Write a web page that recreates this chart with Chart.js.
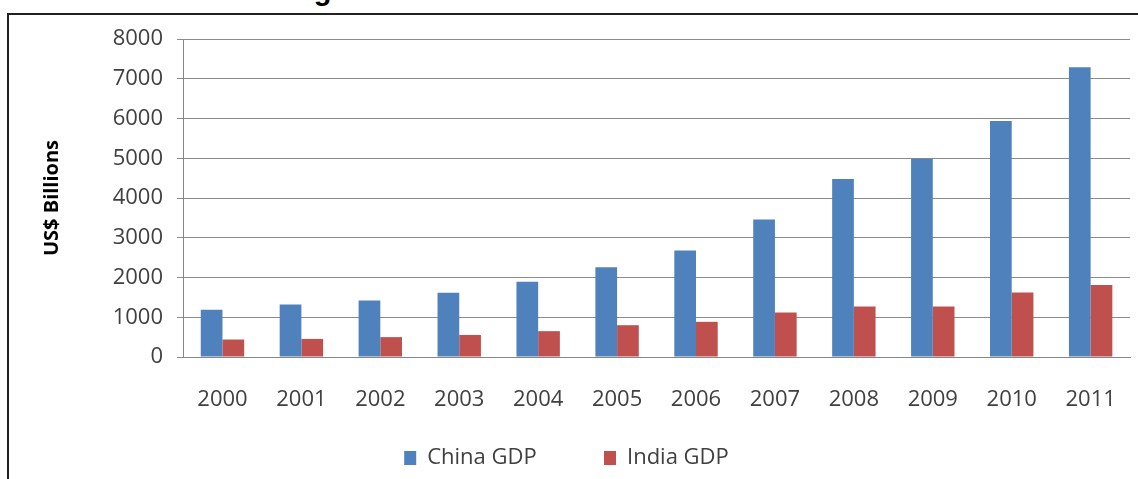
<!DOCTYPE html>
<html>
<head>
  <title>China and India GDP</title>
  <script src="https://cdn.jsdelivr.net/npm/chart.js@4"></script>
  <style>
    html, body { margin: 0; padding: 0; background: #fff; overflow: hidden; }
    #wrap { position: relative; width: 1138px; height: 479px; }
    #title {
      position: absolute; left: 0; width: 1138px; top: -26px; line-height: 29px;
      text-align: center; font: bold 29px "Liberation Sans", Arial, sans-serif; color: #000;
    }
    #frame {
      position: absolute; left: 7px; top: 13px; right: -4px; bottom: -4px;
      border-top: 2px solid #222; border-left: 2px solid #222;
    }
    canvas { position: absolute; left: 0; top: 0; }
  </style>
</head>
<body>
  <div id="wrap">
    <div id="title">Figure 1: China and India GDP 2000-2011</div>
    <div id="frame"></div>
    <canvas id="chart" width="1138" height="479"></canvas>
  </div>

  <script>
    // data (US$ billions)
    var years = ['2000', '2001', '2002', '2003', '2004', '2005', '2006', '2007', '2008', '2009', '2010', '2011'];
    var chinaGdp = [1190, 1320, 1420, 1615, 1890, 2255, 2680, 3460, 4480, 4990, 5940, 7290];
    var indiaGdp = [440, 455, 500, 555, 650, 800, 885, 1120, 1270, 1270, 1625, 1810];
    var yTicks = [0, 1000, 2000, 3000, 4000, 5000, 6000, 7000, 8000];

    var font = '"Open Sans", sans-serif';

    var ctx = document.getElementById('chart').getContext('2d');
    var myChart = new Chart(ctx, {
      type: 'bar',
      data: {
        labels: years,
        datasets: [
          { label: 'China GDP', data: chinaGdp, backgroundColor: '#4F81BD' },
          { label: 'India GDP', data: indiaGdp, backgroundColor: '#C0504D' }
        ]
      },
      options: {
        responsive: false,
        animation: false,
        categoryPercentage: 0.55,
        barPercentage: 1.0,
        layout: { padding: { top: 39, right: 5, left: 0, bottom: 0 } },
        plugins: {
          tooltip: { enabled: false },
          legend: {
            position: 'bottom',
            labels: {
              boxWidth: 12, boxHeight: 14, padding: 33,
              color: '#404040',
              font: { family: font, size: 22 },
              // wider gap between the two entries, like the original
              generateLabels: function (chart) {
                var items = Chart.defaults.plugins.legend.labels.generateLabels(chart);
                items[0].text = items[0].text + '      ';
                return items;
              }
            }
          }
        },
        scales: {
          x: {
            grid: { display: false },
            border: { display: true, color: '#868686', width: 1 },
            ticks: { color: '#404040', padding: 22, maxRotation: 0, font: { family: font, size: 22 } },
            afterFit: function (s) { s.height = 57; }
          },
          y: {
            min: 0, max: 8000,
            afterBuildTicks: function (s) { s.ticks = yTicks.map(function (v) { return { value: v }; }); },
            grid: { color: '#8c8c8c', lineWidth: 1, tickLength: 6 },
            border: { display: true, color: '#868686', width: 1 },
            ticks: {
              color: '#404040', padding: 14, font: { family: font, size: 22 },
              callback: function (v) { return String(v); }
            },
            title: {
              display: true, text: 'US$ Billions', color: '#000',
              font: { family: font, size: 20, weight: 'bold' },
              padding: { top: 40, bottom: 0 }
            },
            afterFit: function (s) { s.width = 183; }
          }
        }
      }
    });
  </script>
</body>
</html>
